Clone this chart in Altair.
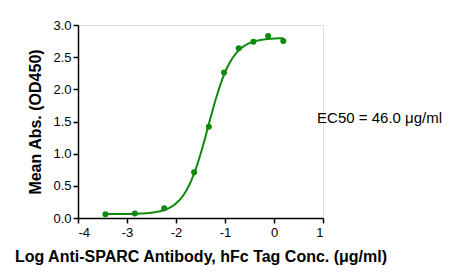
import altair as alt
import numpy as np
import pandas as pd

# Observed data points (log concentration, mean absorbance)
log_conc = [-3.44, -2.84, -2.24, -1.63, -1.33, -1.02, -0.72, -0.42, -0.12, 0.19]
mean_abs = [0.06, 0.07, 0.15, 0.71, 1.42, 2.26, 2.64, 2.74, 2.83, 2.75]

# Four-parameter logistic fit parameters
fit_bottom = 0.06
fit_top = 2.80
fit_log_ec50 = -1.34
fit_hill = 1.8

x_ticks = [-4, -3, -2, -1, 0, 1]
y_ticks = [0.0, 0.5, 1.0, 1.5, 2.0, 2.5, 3.0]
annotation = "EC50 = 46.0 \u03bcg/ml"

pts = pd.DataFrame({"x": log_conc, "y": mean_abs})
xs = np.linspace(min(log_conc), max(log_conc), 200)
ys = fit_bottom + (fit_top - fit_bottom) / (1 + 10 ** ((fit_log_ec50 - xs) * fit_hill))
curve = pd.DataFrame({"x": xs, "y": ys})
ann = pd.DataFrame({"x": [0.88], "y": [1.56], "t": [annotation]})

GREEN = "#0b8a0b"
FONT = "Liberation Sans"

xscale = alt.Scale(domain=[-4, 1], nice=False, zero=False)
yscale = alt.Scale(domain=[0, 3], nice=False)

xaxis = alt.Axis(
    title="Log Anti-SPARC Antibody, hFc Tag Conc. (\u03bcg/ml)",
    values=x_ticks, labelExpr="'' + datum.value", grid=False, labelOverlap=False,
    tickSize=5, tickWidth=1.5, domainWidth=1.5, domainColor="black", tickColor="black",
    labelFont=FONT, labelFontSize=13, labelColor="black", labelPadding=3,
    titleFont=FONT, titleFontSize=16, titleFontWeight="bold", titleColor="black",
    titlePadding=9,
)
yaxis = alt.Axis(
    title="Mean Abs. (OD450)",
    values=y_ticks, labelExpr="format(datum.value, '.1f')", grid=False,
    labelOverlap=False, tickCount=7,
    tickSize=5, tickWidth=1.5, domainWidth=1.5, domainColor="black", tickColor="black",
    labelFont=FONT, labelFontSize=13, labelColor="black", labelPadding=2,
    titleFont=FONT, titleFontSize=16, titleFontWeight="bold", titleColor="black",
    titlePadding=9,
)

line = alt.Chart(curve).mark_line(color=GREEN, strokeWidth=2).encode(
    x=alt.X("x:Q", scale=xscale, axis=xaxis),
    y=alt.Y("y:Q", scale=yscale, axis=yaxis),
)
dots = alt.Chart(pts).mark_circle(color=GREEN, size=36, opacity=1).encode(
    x=alt.X("x:Q", scale=xscale, axis=xaxis),
    y=alt.Y("y:Q", scale=yscale, axis=yaxis),
)
text = alt.Chart(ann).mark_text(
    align="left", baseline="middle", font=FONT, fontSize=15, color="black", clip=False
).encode(
    x=alt.X("x:Q", scale=xscale, axis=xaxis),
    y=alt.Y("y:Q", scale=yscale, axis=yaxis),
    text="t:N",
)

chart = (
    alt.layer(line, dots, text)
    .properties(
        width=245, height=193,
        autosize=alt.AutoSizeParams(type="none"),
        padding={"left": 78, "top": 25, "right": 143, "bottom": 61},
    )
    .configure_view(stroke=None)
    .configure(background="white")
)

chart.save("out.html", embed_options={"renderer": "svg", "actions": False})
